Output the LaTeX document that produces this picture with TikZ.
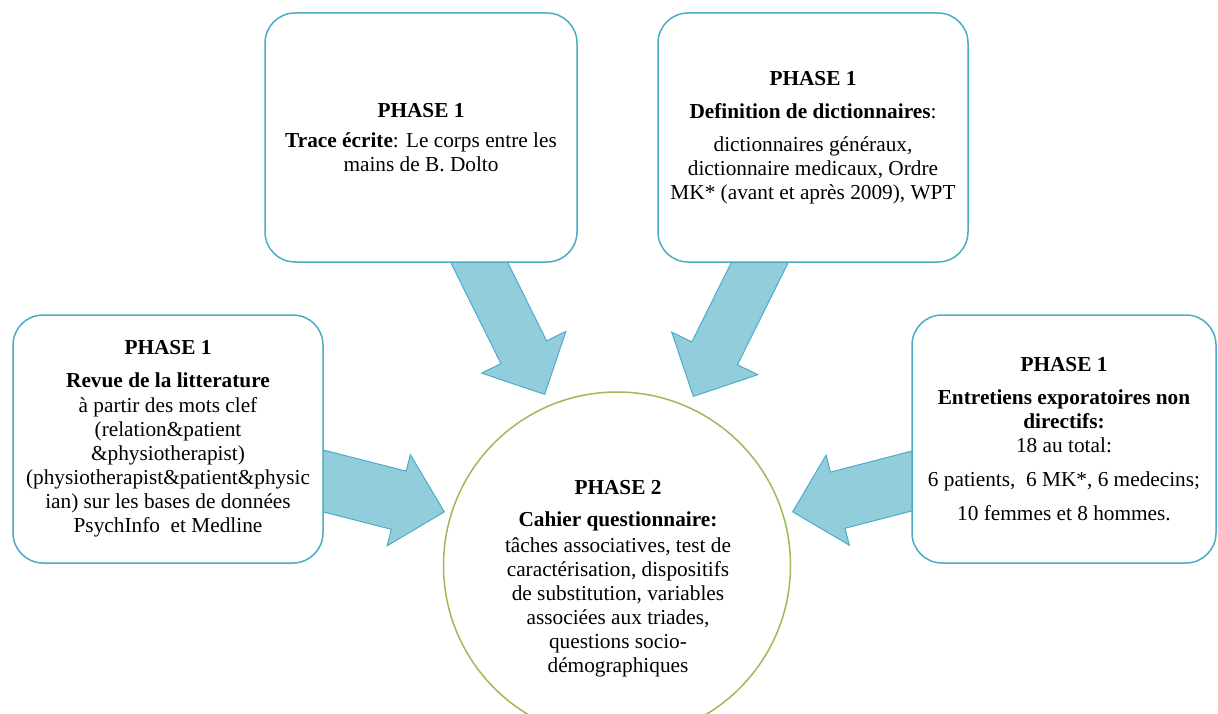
\documentclass[tikz,border=0pt]{standalone}
\usepackage{fontspec}
\setmainfont{Liberation Serif}
\usetikzlibrary{shapes.arrows}
\definecolor{boxblue}{RGB}{75,172,198}
\definecolor{arrowblue}{RGB}{146,205,220}
\definecolor{circgreen}{RGB}{155,187,89}
\begin{document}
\begin{tikzpicture}[x=1pt,y=-1pt,font=\fontsize{21.3}{24}\selectfont,
  phasebox/.style={draw=boxblue,line width=1.5pt,fill=white,rounded corners=30pt,align=center,inner sep=0pt},
  flowarrow/.style={single arrow,draw=boxblue,line width=1pt,fill=arrowblue,inner xsep=0pt,anchor=tip,single arrow head extend=#1},
  phasetext/.style={align=center,inner sep=0pt}]
\useasboundingbox (0,0) rectangle (1218,714);
\clip (0,0) rectangle (1218,714);
% arrows first, the boxes hide their tails
\node[flowarrow=21.5pt,rotate=-63.6,minimum height=170pt,inner ysep=25pt] (arrtrace) at (545,395) {};
\node[flowarrow=22.5pt,rotate=-116.4,minimum height=172pt,inner ysep=25pt] (arrdict) at (693,397) {};
\node[flowarrow=17pt,rotate=-14.3,minimum height=146pt,inner ysep=29.5pt] (arrrevue) at (445,512) {};
\node[flowarrow=17.5pt,rotate=-165.5,minimum height=144pt,inner ysep=28.5pt] (arrentr) at (792,512) {};
% phase 1 boxes
\node[phasebox,minimum width=312pt,minimum height=249pt] (trace) at (421,137.5)
  {\textbf{PHASE 1}\\[6pt]\textbf{Trace écrite}: Le corps entre les\\mains de B. Dolto};
\node[phasebox,minimum width=310pt,minimum height=249pt] (dict) at (813,137.5)
  {\textbf{PHASE 1}\\[9pt]\textbf{Definition de dictionnaires}:\\[9pt]dictionnaires généraux,\\dictionnaire medicaux, Ordre\\MK* (avant et après 2009), WPT};
\node[phasebox,minimum width=310pt,minimum height=248pt] (revue) at (168,439)
  {\textbf{PHASE 1}\\[9pt]\textbf{Revue de la litterature}\\[1pt]à partir des mots clef\\(relation\&patient\\\&physiotherapist)\\(physiotherapist\&patient\&physic\\ian) sur les bases de données\\PsychInfo\ \ et Medline};
\node[phasebox,minimum width=304pt,minimum height=248pt] (entr) at (1064,439)
  {\textbf{PHASE 1}\\[9pt]\textbf{Entretiens exporatoires non}\\\textbf{directifs:}\\18 au total:\\[10pt]6 patients,\ \ 6 MK*, 6 medecins;\\[10pt]10 femmes\ et 8 hommes.};
% phase 2
\node[circle,draw=circgreen,line width=1.5pt,fill=white,minimum size=347pt] (phase2) at (617,565.5) {};
\node[phasetext] (phase2txt) at (618,579)
  {\textbf{PHASE 2}\\[8pt]\textbf{Cahier questionnaire:}\\[2pt]tâches associatives, test de\\caractérisation, dispositifs\\de substitution, variables\\associées aux triades,\\questions socio-\\démographiques};
\end{tikzpicture}
\end{document}
